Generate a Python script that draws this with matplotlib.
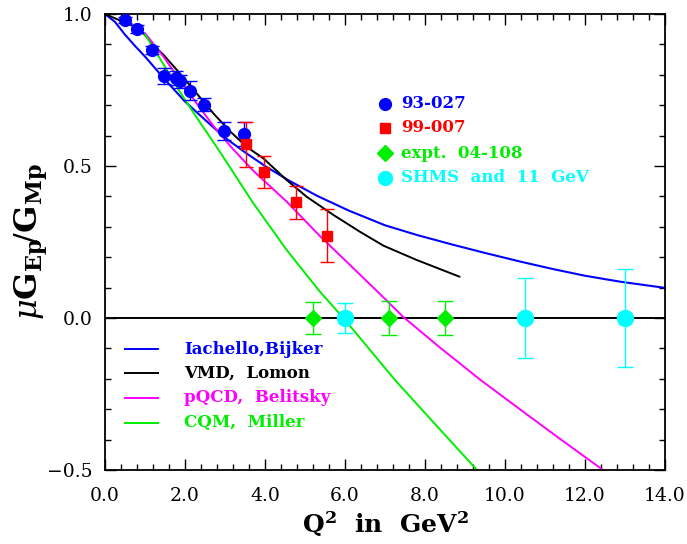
import matplotlib
matplotlib.use("Agg")
import matplotlib.pyplot as plt
from matplotlib.ticker import MultipleLocator, FuncFormatter
import numpy as np

plt.rcParams['font.family'] = ['DejaVu Serif']
plt.rcParams['mathtext.fontset'] = 'dejavuserif'

# ---- data: points ----
q2_93027 = [0.49, 0.79, 1.18, 1.48, 1.77, 1.88, 2.13, 2.47, 2.97, 3.47]
r_93027 = [0.979, 0.951, 0.883, 0.797, 0.789, 0.778, 0.748, 0.702, 0.615, 0.605]
e_93027 = [0.010, 0.012, 0.013, 0.027, 0.022, 0.022, 0.030, 0.021, 0.029, 0.040]

q2_99007 = [3.52, 3.98, 4.77, 5.56]
r_99007 = [0.571, 0.481, 0.381, 0.271]
e_99007 = [0.073, 0.052, 0.054, 0.087]

q2_04108 = [5.2, 7.1, 8.5]
r_04108 = [0.0, 0.0, 0.0]
e_04108 = [0.054, 0.055, 0.055]

q2_shms = [6.0, 10.5, 13.0]
r_shms = [0.0, 0.0, 0.0]
e_shms = [0.048, 0.131, 0.161]

# ---- data: curves ----
q2_iach = [0.0, 0.25, 0.5, 0.75, 1.0, 1.5, 2.0, 2.5, 3.0, 3.5, 4.0, 4.6, 5.3, 6.1, 7.0,
           7.8, 8.7, 9.5, 10.4, 11.2, 12.0, 12.9, 13.9, 14.0]
r_iach = [1.0, 0.974, 0.932, 0.895, 0.860, 0.784, 0.712, 0.652, 0.593, 0.545, 0.500, 0.452,
          0.402, 0.353, 0.305, 0.273, 0.241, 0.214, 0.185, 0.161, 0.139, 0.119, 0.101, 0.099]

q2_vmd = [0.0, 0.37, 0.7, 0.96, 1.2, 1.46, 1.87, 2.29, 2.71, 3.12, 3.54, 3.96, 4.54, 5.04,
          5.71, 6.37, 6.96, 7.79, 8.86]
r_vmd = [1.0, 0.979, 0.961, 0.937, 0.899, 0.866, 0.805, 0.739, 0.673, 0.615, 0.563, 0.525,
         0.454, 0.399, 0.339, 0.284, 0.238, 0.191, 0.136]

q2_pqcd = [1.0, 1.46, 1.87, 2.29, 2.71, 3.17, 3.71, 4.54, 5.37, 6.12, 6.96, 7.46, 8.4,
           9.37, 10.4, 11.4, 12.45]
r_pqcd = [0.937, 0.860, 0.783, 0.706, 0.632, 0.560, 0.484, 0.383, 0.270, 0.175, 0.068,
          0.003, -0.100, -0.202, -0.303, -0.400, -0.500]

q2_cqm = [1.0, 1.46, 1.87, 2.29, 2.87, 3.71, 4.54, 5.37, 5.96, 7.25, 8.3, 9.3]
r_cqm = [0.933, 0.835, 0.744, 0.660, 0.547, 0.377, 0.224, 0.087, 0.0, -0.204, -0.356, -0.500]

BLUE = '#0000ff'
RED = '#ff0000'
GREEN = '#00ee00'
CYAN = '#00ffff'
MAG = '#ff00ff'

fig = plt.figure(figsize=(6.87, 5.44), dpi=100)
ax = fig.add_axes([105/687, 1-470/544, 560/687, 456/544])

ax.axhline(0.0, color='black', lw=1.4, zorder=1)

ax.plot(q2_iach, r_iach, color=BLUE, lw=1.5, zorder=2)
ax.plot(q2_vmd, r_vmd, color='black', lw=1.4, zorder=2)
ax.plot(q2_pqcd, r_pqcd, color=MAG, lw=1.4, zorder=2)
ax.plot(q2_cqm, r_cqm, color=GREEN, lw=1.4, zorder=2)

ax.errorbar(q2_93027, r_93027, yerr=e_93027, fmt='o', color=BLUE, ms=8.5, capsize=5,
            elinewidth=1.0, capthick=1.0, zorder=4)
ax.errorbar(q2_99007, r_99007, yerr=e_99007, fmt='s', color=RED, ms=7.5, capsize=5,
            elinewidth=1.0, capthick=1.0, zorder=4)
ax.errorbar(q2_04108, r_04108, yerr=e_04108, fmt='D', color=GREEN, ms=8.5, capsize=6,
            elinewidth=1.0, capthick=1.0, zorder=4)
ax.errorbar(q2_shms, r_shms, yerr=e_shms, fmt='o', color=CYAN, ms=11.5, capsize=6,
            elinewidth=1.0, capthick=1.0, zorder=4)

ax.set_xlim(0, 14)
ax.set_ylim(-0.5, 1.0)
ax.xaxis.set_major_locator(MultipleLocator(2.0))
ax.xaxis.set_minor_locator(MultipleLocator(0.4))
ax.yaxis.set_major_locator(MultipleLocator(0.5))
ax.yaxis.set_minor_locator(MultipleLocator(0.1))
fmt = FuncFormatter(lambda v, p: ('%.1f' % v).replace('-', '\u2212'))
ax.xaxis.set_major_formatter(fmt)
ax.yaxis.set_major_formatter(fmt)
ax.tick_params(which='both', direction='in', top=True, right=True, width=1.0)
ax.tick_params(which='major', length=8, labelsize=13.5)
ax.tick_params(axis='x', which='major', pad=12)
ax.tick_params(axis='y', which='major', pad=9)
ax.tick_params(which='minor', length=4)
for s in ax.spines.values():
    s.set_linewidth(1.3)

ax.set_xlabel(r'Q$^{\mathbf{2}}$  in  GeV$^{\mathbf{2}}$', fontsize=18, fontweight='bold', labelpad=3)
ax.set_ylabel(r'$\mu\mathbf{G}_{\mathbf{Ep}}\!/\mathbf{G}_{\mathbf{Mp}}$', fontsize=23, labelpad=-2)

# legend: data sets
leg_pts = [('o', BLUE, 8.5, '93-027'), ('s', RED, 7.5, '99-007'),
           ('D', GREEN, 8.5, 'expt.  04-108'), ('o', CYAN, 10, 'SHMS  and  11  GeV')]
ys = [1-(104-14)/456, 1-(128-14)/456, 1-(153-14)/456, 1-(178-14)/456]
for (m, c, ms, t), yy in zip(leg_pts, ys):
    ax.plot([(385-105)/560], [yy], marker=m, color=c, ms=ms, transform=ax.transAxes, clip_on=False)
    ax.text((401-105)/560, yy, t, color=c, fontsize=12, fontweight='bold',
            transform=ax.transAxes, va='center', ha='left')

# legend: models
leg_lines = [(BLUE, 'Iachello,Bijker'), ('black', 'VMD,  Lomon'),
             (MAG, 'pQCD,  Belitsky'), (GREEN, 'CQM,  Miller')]
ys2 = [1-(349-14)/456, 1-(373-14)/456, 1-(398-14)/456, 1-(423-14)/456]
for (c, t), yy in zip(leg_lines, ys2):
    ax.plot([(125-105)/560, (158-105)/560], [yy, yy], color=c, lw=1.4, transform=ax.transAxes)
    ax.text((184-105)/560, yy, t, color=c, fontsize=12, fontweight='bold',
            transform=ax.transAxes, va='center', ha='left')

fig.savefig('out.png', dpi=100)
